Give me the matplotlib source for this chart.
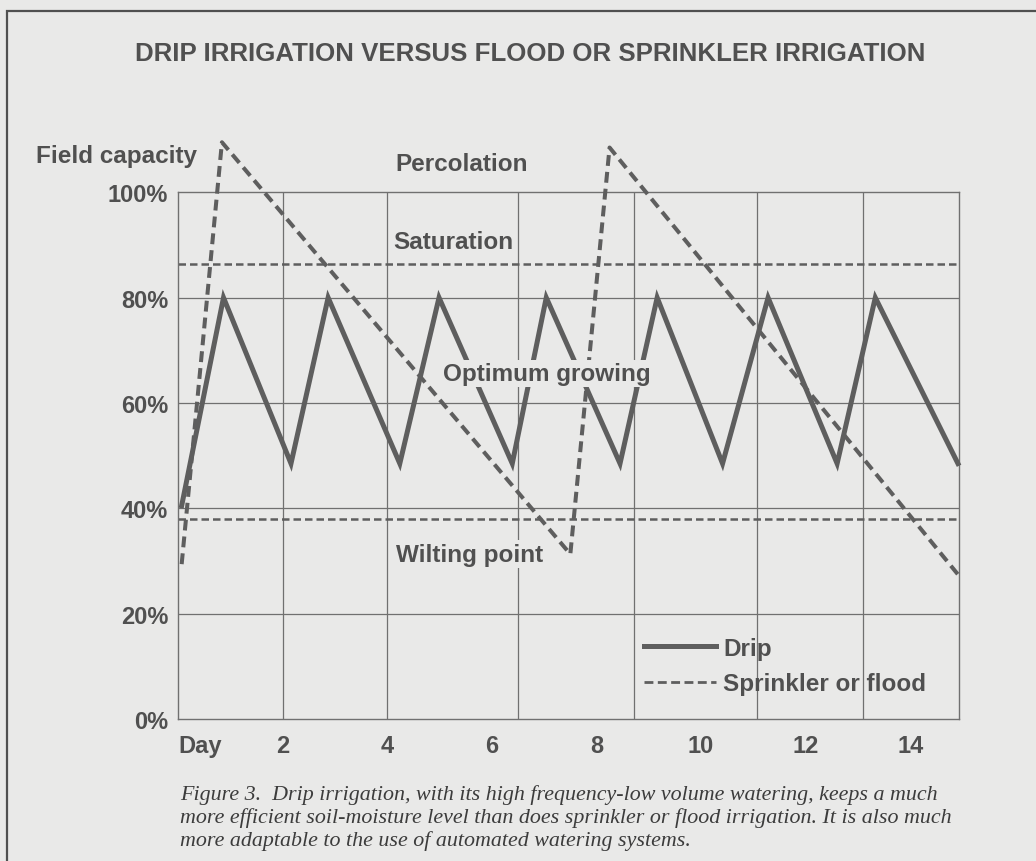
"""Drip vs flood/sprinkler soil-moisture chart (scanned figure recreation)."""

import matplotlib

matplotlib.use("Agg")  # headless

import matplotlib.pyplot as plt
from matplotlib.lines import Line2D
from matplotlib.patches import Rectangle

# --- data -------------------------------------------------------------------
drip_days = [0.07, 0.87, 2.16, 2.87, 4.24, 4.99, 6.39, 7.04, 8.45, 9.16,
             10.41, 11.28, 12.6, 13.33, 14.91]
drip_moisture = [40.5, 80, 48.5, 80, 48.5, 80, 48.5, 80, 48.5, 80,
                 48.5, 80, 48.5, 80, 48.5]

sprinkler_days = [0.07, 0.84, 7.5, 8.25, 14.93]
sprinkler_moisture = [29.4, 109.5, 31.3, 108.5, 27.2]

saturation_level = 86.4
wilting_level = 38.0

grid_days = [2.0, 4.0, 6.5, 8.71, 11.06, 13.09]
grid_pcts = [20, 40, 60, 80]

day_ticks = [0, 2, 4, 6, 8, 10, 12, 14]
day_labels = ["Day", "2", "4", "6", "8", "10", "12", "14"]
pct_ticks = [0, 20, 40, 60, 80, 100]
pct_labels = ["0%", "20%", "40%", "60%", "80%", "100%"]

title = "DRIP IRRIGATION VERSUS FLOOD OR SPRINKLER IRRIGATION"
caption = ("Figure 3.  Drip irrigation, with its high frequency-low volume watering, keeps a much\n"
           "more efficient soil-moisture level than does sprinkler or flood irrigation. It is also much\n"
           "more adaptable to the use of automated watering systems.")

# --- style ------------------------------------------------------------------
PAPER = "#e9e9e8"
INK = "#505050"
LINE = "#5e5e5e"
GRID = "#707070"
W, H = 1036, 862

plt.rcParams["font.family"] = ["Liberation Sans", "DejaVu Sans"]
plt.rcParams["font.weight"] = "bold"

fig = plt.figure(figsize=(W / 100, H / 100), dpi=100)
fig.patch.set_facecolor(PAPER)

ax = fig.add_axes([178 / W, 1 - 720 / H, (959 - 178) / W, (720 - 193.3) / H])
ax.set_facecolor(PAPER)
ax.set_xlim(0, 14.93)
ax.set_ylim(0, 100)

for sp in ax.spines.values():
    sp.set_color(GRID)
    sp.set_linewidth(1.0)

for d in grid_days:
    ax.axvline(d, color=GRID, lw=0.9, zorder=1)
for p in grid_pcts:
    ax.axhline(p, color=GRID, lw=0.9, zorder=1)

ax.axhline(saturation_level, color=LINE, lw=1.8, ls=(0, (3.0, 1.6)), zorder=2)
ax.axhline(wilting_level, color=LINE, lw=1.8, ls=(0, (3.0, 1.6)), zorder=2)

ax.plot(drip_days, drip_moisture, color=LINE, lw=3.6, clip_on=False,
        solid_joinstyle="miter", zorder=3)
ax.plot(sprinkler_days, sprinkler_moisture, color=LINE, lw=2.9,
        ls=(0, (2.7, 1.5)), clip_on=False, zorder=3)

ax.set_xticks(day_ticks, day_labels)
ax.set_yticks(pct_ticks, pct_labels)
ax.tick_params(length=0, labelsize=17, labelcolor=INK, pad=7)
ax.tick_params(axis="x", pad=11)
ax.get_xticklabels()[0].set_horizontalalignment("left")

# region labels
box = dict(facecolor=PAPER, edgecolor="none", pad=1.5)
ax.text(-2.72, 106.9, "Field capacity", ha="left", va="center", fontsize=17.5,
        color=INK, clip_on=False)
ax.text(5.43, 105.4, "Percolation", ha="center", va="center", fontsize=17.5,
        color=INK, clip_on=False)
ax.text(5.26, 90.6, "Saturation", ha="center", va="center", fontsize=17.5,
        color=INK, bbox=box, zorder=4)
ax.text(7.05, 65.6, "Optimum growing", ha="center", va="center", fontsize=17.5,
        color=INK, bbox=box, zorder=4)
ax.text(5.58, 31.3, "Wilting point", ha="center", va="center", fontsize=17.5,
        color=INK, bbox=box, zorder=4)

handles = [
    Line2D([], [], color=LINE, lw=3.6),
    Line2D([], [], color=LINE, lw=2.0, ls=(0, (3.2, 1.6))),
]
ax.legend(handles, ["Drip", "Sprinkler or flood"], loc="upper left",
          bbox_to_anchor=(644 / W, 1 - 638 / H), bbox_transform=fig.transFigure,
          frameon=False, borderpad=0, borderaxespad=0, handlelength=2.95,
          handletextpad=0.3, labelspacing=0.5, prop={"size": 17.5, "weight": "bold"},
          labelcolor=INK)

fig.text(530 / W, 1 - 54 / H, title, ha="center", va="center", fontsize=18.6,
         color=INK)
fig.text(180 / W, 1 - 818 / H, caption, ha="left", va="center", fontsize=15.8,
         family="Liberation Serif", style="italic", weight="normal",
         color="#3c3c3c", linespacing=1.2)

# scanned page frame
fig.add_artist(Rectangle((7 / W, -0.2), 2, 1.2 - 12 / H, transform=fig.transFigure,
                         fill=False, edgecolor=INK, lw=1.6))

fig.savefig("out.png", dpi=100, facecolor=fig.get_facecolor())
plt.close(fig)
